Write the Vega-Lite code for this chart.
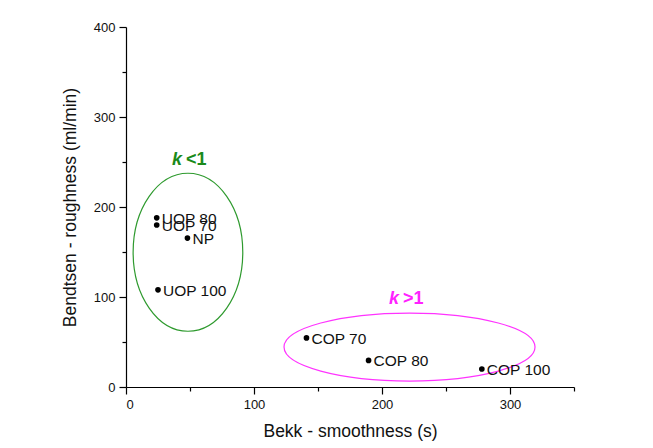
{
  "$schema": "https://vega.github.io/schema/vega-lite/v6.json",
  "width": 448,
  "height": 360,
  "autosize": "none",
  "padding": {"left": 126, "top": 27, "right": 79, "bottom": 61},
  "background": "white",
  "config": {
    "view": {"stroke": null},
    "font": "Liberation Sans",
    "axis": {
      "domainColor": "black",
      "tickColor": "black",
      "labelColor": "#111111",
      "titleColor": "#111111",
      "grid": false,
      "labelFont": "Liberation Sans",
      "titleFont": "Liberation Sans",
      "labelFontSize": 13,
      "titleFontSize": 17.5,
      "titleFontWeight": "normal",
      "domainWidth": 1.2,
      "tickWidth": 1.2
    }
  },
  "layer": [
    {
      "data": {"values": [
        {"cx": 48.4, "cy": 149.7, "group": "k<1"},
        {"cx": 221.5, "cy": 44.4, "group": "k>1"}
      ]},
      "mark": {"type": "point", "filled": false, "strokeWidth": 1.2, "opacity": 1},
      "encoding": {
        "x": {"field": "cx", "type": "quantitative"},
        "y": {"field": "cy", "type": "quantitative"},
        "shape": {"condition": {"test": "datum.group === 'k<1'", "value": "M -0.694 0 A 0.694 1 0 1 0 0.694 0 A 0.694 1 0 1 0 -0.694 0 Z"}, "value": "M -1 0 A 1 0.271 0 1 0 1 0 A 1 0.271 0 1 0 -1 0 Z"},
        "size": {"condition": {"test": "datum.group === 'k<1'", "value": 24964}, "value": 63001},
        "color": {"condition": {"test": "datum.group === 'k<1'", "value": "#2e9a2e"}, "value": "#ff33ff"}
      }
    },
    {
      "data": {"values": [
        {"label": "UOP 80", "bekk": 24, "bendtsen": 188},
        {"label": "UOP 70", "bekk": 24, "bendtsen": 180},
        {"label": "NP", "bekk": 48, "bendtsen": 165.5},
        {"label": "UOP 100", "bekk": 25, "bendtsen": 108},
        {"label": "COP 70", "bekk": 141, "bendtsen": 54.5},
        {"label": "COP 80", "bekk": 189.5, "bendtsen": 29.5},
        {"label": "COP 100", "bekk": 278, "bendtsen": 20}
      ]},
      "encoding": {
        "x": {
          "field": "bekk", "type": "quantitative",
          "scale": {"domain": [0, 350], "nice": false, "zero": true},
          "axis": {
            "title": "Bekk - smoothness (s)",
            "values": [0, 50, 100, 150, 200, 250, 300, 350],
            "labelExpr": "datum.value % 100 === 0 ? datum.label : ''",
            "tickSize": {"condition": {"test": "datum.value % 100 === 0", "value": 7}, "value": 4},
            "labelPadding": 4,
            "titlePadding": 11
          }
        },
        "y": {
          "field": "bendtsen", "type": "quantitative",
          "scale": {"domain": [0, 400], "nice": false},
          "axis": {
            "title": "Bendtsen - roughness (ml/min)",
            "values": [0, 50, 100, 150, 200, 250, 300, 350, 400],
            "labelExpr": "datum.value % 100 === 0 ? datum.label : ''",
            "tickSize": {"condition": {"test": "datum.value % 100 === 0", "value": 7}, "value": 4},
            "labelPadding": 4,
            "titlePadding": 14
          }
        }
      },
      "layer": [
        {"mark": {"type": "point", "filled": true, "color": "black", "size": 32, "opacity": 1}},
        {"mark": {"type": "text", "align": "left", "baseline": "middle", "dx": 5, "dy": 1, "fontSize": 15.5, "color": "#111111", "font": "Liberation Sans"},
         "encoding": {"text": {"field": "label"}}}
      ]
    },
    {
      "data": {"values": [
        {"lx": 36, "ly": 246.5, "part1": "k", "part2": "<1", "group": "k<1"},
        {"lx": 205.5, "ly": 92, "part1": "k", "part2": ">1", "group": "k>1"}
      ]},
      "encoding": {
        "x": {"field": "lx", "type": "quantitative"},
        "y": {"field": "ly", "type": "quantitative"},
        "color": {"condition": {"test": "datum.group === 'k<1'", "value": "#1a8a1a"}, "value": "#ff22ff"}
      },
      "layer": [
        {"mark": {"type": "text", "align": "left", "baseline": "alphabetic", "fontSize": 18, "fontWeight": "bold", "fontStyle": "italic", "font": "Liberation Sans"},
         "encoding": {"text": {"field": "part1"}}},
        {"mark": {"type": "text", "align": "left", "baseline": "alphabetic", "dx": 14, "fontSize": 18, "fontWeight": "bold", "font": "Liberation Sans"},
         "encoding": {"text": {"field": "part2"}}}
      ]
    }
  ]
}
